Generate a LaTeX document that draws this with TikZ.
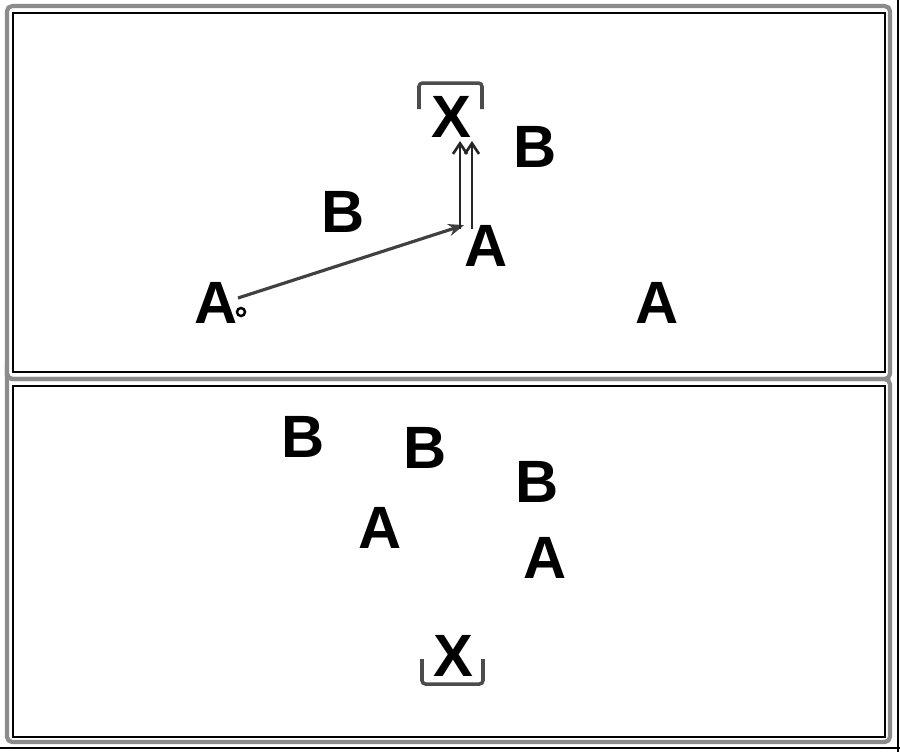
\documentclass[tikz,border=0pt]{standalone}
\usepackage{fontspec}
\setsansfont{Liberation Sans}
\usetikzlibrary{arrows.meta}
\tikzset{
  player/.style={font=\fontsize{34}{36}\sffamily\bfseries, inner sep=0pt},
  frame/.style={black!45, line width=2.4pt, rounded corners=3pt},
  inner/.style={black, line width=0.8pt},
  bracket/.style={black!70, line width=2pt, rounded corners=2pt},
  run/.style={line width=1.5pt, black!85, -{Straight Barb[length=6pt,width=8pt]}}
}
\begin{document}
\begin{tikzpicture}[x=0.02cm,y=-0.02cm]
      \useasboundingbox (0,0) rectangle (900,752);
      % frames
      \draw[inner] (898,0) -- (898,752);
      \draw[inner] (0,748) -- (900,748);
      \draw[frame] (7,379) |- (890,6) |- (7,379) -- cycle;
      \draw[frame] (7,379) |- (890,742) |- (7,379) -- cycle;
      \draw[inner] (13,13) rectangle (885,372);
      \draw[inner] (13,386) rectangle (885,737);

      % top panel
      \node[player] (xa) at (451,117) {X};
      \draw[bracket] (419,109) |- (482,83) -- (482,109);
      \node[player] (b1) at (535,147) {B};
      \node[player] (b2) at (343,212) {B};
      \node[player] (a2) at (486,246) {A};
      \node[player] (a1) at (216,303) {A};
      \node[player] (a3) at (657,303) {A};
      \draw[line width=1.4pt] (241,312) circle (4);
      \coordinate (pass) at (238,298);
      \coordinate (cut) at (466,229);
      \coordinate (goal) at (466,141);
      \path[-{Stealth[length=9pt,width=7pt]}, line width=1.8pt, black!75]
      (pass) edge (a2.north west);
      \path
      ([xshift=-3.4pt]cut) edge[run] ([xshift=-3.4pt]goal)
      ([xshift=3.4pt]cut) edge[run] ([xshift=3.4pt]goal);

      % bottom panel
      \node[player] (b3) at (303,437) {B};
      \node[player] (b4) at (425,448) {B};
      \node[player] (b5) at (537,482) {B};
      \node[player] (a4) at (380,528) {A};
      \node[player] (a5) at (545,558) {A};
      \node[player] (xb) at (453,656) {X};
      \draw[bracket] (422,659) |- (483,684) -- (483,659);
    \end{tikzpicture}
\end{document}
